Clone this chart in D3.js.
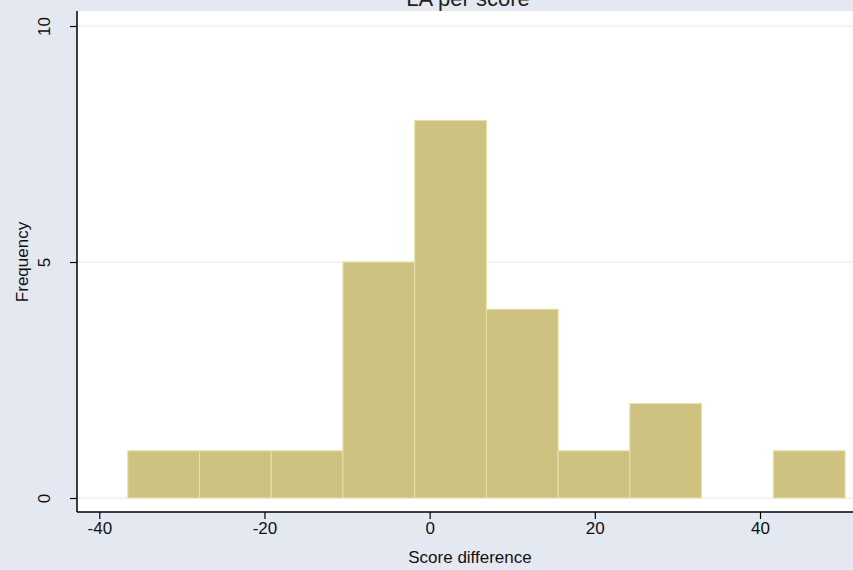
<!DOCTYPE html>
<html lang="en">
<head>
    <meta charset="UTF-8">
    <title>Score difference histogram</title>
    <script src="https://d3js.org/d3.v7.min.js"></script>
    <style>
        body { margin: 0; background: #e3e8f1; }
        svg { display: block; font-family: "Liberation Sans", Arial, sans-serif; }
        .grid line { stroke: #e6e6e6; stroke-width: 1; }
        .bar { fill: #cdc27f; stroke: #e9e0a8; stroke-width: 1; }
    </style>
</head>
<body>
    <div id="chart"></div>
    <script>
        const width = 853;
        const height = 570;

        // histogram bins
        const binEdges = [-36.55, -27.87, -19.18, -10.50, -1.81, 6.87, 15.56, 24.24, 32.93, 41.61, 50.30];
        const counts = [1, 1, 1, 5, 8, 4, 1, 2, 0, 1];
        const xTicks = [-40, -20, 0, 20, 40];
        const yTicks = [0, 5, 10];

        const bins = counts.map((c, i) => ({ x0: binEdges[i], x1: binEdges[i + 1], n: c }));

        const plot = { left: 77, right: 853, top: 11, bottom: 512 };

        const x = d3.scaleLinear().domain([-40, 40]).range([99.3, 760]);
        const y = d3.scaleLinear().domain([0, 10]).range([498, 26]);

        const svg = d3.select("#chart")
            .append("svg")
            .attr("width", width)
            .attr("height", height);

        svg.append("rect")
            .attr("width", width).attr("height", height)
            .attr("fill", "#e3e8f1");

        // plot region
        svg.append("rect")
            .attr("x", plot.left).attr("y", plot.top)
            .attr("width", plot.right - plot.left)
            .attr("height", plot.bottom - plot.top)
            .attr("fill", "#ffffff");

        // title, cut off at the top edge like in the original
        svg.append("text")
            .attr("x", 468).attr("y", 6)
            .attr("text-anchor", "middle")
            .attr("font-size", 22)
            .attr("fill", "#222")
            .text("LA per score");

        svg.append("g")
            .attr("class", "grid")
            .selectAll("line")
            .data(yTicks)
            .enter().append("line")
            .attr("x1", plot.left).attr("x2", plot.right)
            .attr("y1", d => y(d)).attr("y2", d => y(d));

        svg.append("g")
            .selectAll("rect")
            .data(bins.filter(d => d.n > 0))
            .enter().append("rect")
            .attr("class", "bar")
            .attr("x", d => x(d.x0))
            .attr("width", d => x(d.x1) - x(d.x0))
            .attr("y", d => y(d.n))
            .attr("height", d => y(0) - y(d.n));

        // x axis
        const xAxis = svg.append("g")
            .attr("transform", `translate(0,${plot.bottom})`)
            .call(d3.axisBottom(x).tickValues(xTicks).tickSize(7).tickPadding(3).tickFormat(d3.format("d")));
        xAxis.select(".domain").attr("d", `M${plot.left},0H${plot.right}`).attr("stroke", "#000").attr("stroke-width", 1.5);
        xAxis.selectAll(".tick line").attr("stroke", "#000").attr("stroke-width", 1.2);
        xAxis.selectAll(".tick text").attr("font-size", 17).attr("fill", "#111")
            .text(d => d < 0 ? "-" + Math.abs(d) : d);

        // y axis
        const yAxis = svg.append("g")
            .attr("transform", `translate(${plot.left},0)`)
            .call(d3.axisLeft(y).tickValues(yTicks).tickSize(7).tickPadding(0));
        yAxis.select(".domain").attr("d", `M0,${plot.top}V${plot.bottom}`).attr("stroke", "#000").attr("stroke-width", 1.5);
        yAxis.selectAll(".tick line").attr("stroke", "#000").attr("stroke-width", 1.2);
        yAxis.selectAll(".tick text")
            .attr("font-size", 17).attr("fill", "#111")
            .attr("text-anchor", "middle")
            .attr("x", 0).attr("dy", 0)
            .attr("transform", "translate(-33,0) rotate(-90)")
            .attr("y", 6);

        svg.append("text")
            .attr("x", 470).attr("y", 563)
            .attr("text-anchor", "middle")
            .attr("font-size", 17)
            .attr("fill", "#111")
            .text("Score difference");

        svg.append("text")
            .attr("transform", `translate(28,${y(5)}) rotate(-90)`)
            .attr("text-anchor", "middle")
            .attr("font-size", 17)
            .attr("fill", "#111")
            .text("Frequency");
    </script>
</body>
</html>
